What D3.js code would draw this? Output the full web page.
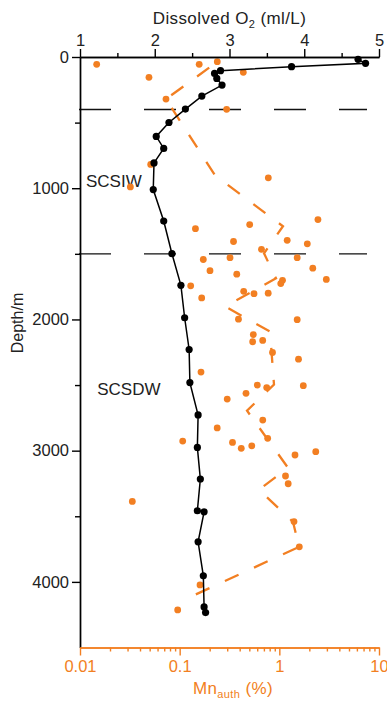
<!DOCTYPE html>
<html>
<head>
<meta charset="utf-8">
<script src="https://cdn.jsdelivr.net/npm/d3@7"></script>
<style>
  body { margin: 0; background: #fff; }
  text { font-family: "Liberation Sans", Arial, sans-serif; }
</style>
</head>
<body>
<div id="chart-area"></div>
<script>
// dissolved oxygen profile (ml/L) against depth (m)
var o2Depth = [18, 48, 74, 104, 125, 163, 214, 298, 397, 499, 605, 697, 807, 1010, 1250,
    1499, 1740, 1987, 2229, 2481, 2728, 2975, 3216, 3458, 3466, 3695, 3954, 4191, 4234];
var o2Value = [4.72, 4.82, 3.83, 2.88, 2.80, 2.83, 2.90, 2.63, 2.41, 2.19, 2.02, 2.12, 1.99, 1.98, 2.12,
    2.23, 2.35, 2.40, 2.46, 2.47, 2.58, 2.57, 2.61, 2.57, 2.66, 2.58, 2.65, 2.66, 2.68];

// authigenic Mn (%) samples
var mnDepth = [56, 56, 36, 155, 117, 321, 399, 819, 921, 990,
    1308, 1277, 1239, 1406, 1397, 1424, 1466, 1543, 1529, 1529,
    1628, 1655, 1609, 1695, 1702, 1727, 1744, 1836, 1786, 1804,
    1800, 1998, 2002, 2115, 2170, 2160, 2252, 2303, 2401, 2500,
    2519, 2505, 2607, 2563, 2767, 2827, 2927, 2937, 2982, 2963,
    2906, 3033, 3008, 3193, 3252, 3387, 3540, 3733, 4023, 4214];
var mnValue = [0.0147, 0.157, 0.2385, 0.0492, 0.435, 0.0729, 0.296, 0.0512, 0.775, 0.032,
    0.144, 0.504, 2.44, 0.347, 1.199, 1.908, 0.662, 0.1726, 0.32, 1.511,
    0.2015, 0.374, 2.166, 2.96, 1.076, 1.034, 0.129, 0.1663, 0.439, 0.557,
    0.773, 0.389, 1.511, 0.548, 0.540, 0.681, 0.854, 1.557, 0.1637, 0.601,
    0.747, 1.74, 0.300, 0.463, 0.682, 0.238, 0.1073, 0.339, 0.415, 0.529,
    0.764, 1.436, 2.32, 1.153, 1.227, 0.0335, 1.403, 1.586, 0.16, 0.0955];

// dashed Mn profile
var mnLineDepth = [36, 321, 901, 1290, 1496, 1687, 1901, 2092, 2496, 2695, 3130, 3298, 3542, 3733, 4137];
var mnLineValue = [0.2385, 0.0729, 0.226, 1.088, 0.702, 0.926, 0.285, 0.806, 0.884, 0.474, 1.221, 0.625, 1.371, 1.575, 0.1105];

// water mass boundaries
var boundaryDepth = [400, 1500];
var waterMass = ["SCSIW", "SCSDW"];
var waterMassDepth = [990, 2575];
var waterMassO2 = [1.08, 1.23];

var depthTicks = [0, 1000, 2000, 3000, 4000];
var o2Ticks = [1, 2, 3, 4, 5];
var mnTicks = [0.01, 0.1, 1, 10];

var orange = "#f27f22";

var svg = d3.select("#chart-area")
    .append("svg")
        .attr("width", 387)
        .attr("height", 703);

var x = d3.scaleLinear().domain([1, 5]).range([80, 379]);
var xMn = d3.scaleLog().domain([0.01, 10]).range([80, 379]);
var y = d3.scaleLinear().domain([0, 4500]).range([57, 647.5]);

// boundary dashed lines
svg.selectAll(".boundary")
    .data(boundaryDepth)
    .enter().append("line")
        .attr("class", "boundary")
        .attr("x1", 79)
        .attr("x2", 367)
        .attr("y1", d => y(d))
        .attr("y2", d => y(d))
        .attr("stroke", "#111")
        .attr("stroke-width", 1.3)
        .attr("stroke-dasharray", "32,33");

// water mass labels
svg.selectAll(".mass")
    .data(waterMass)
    .enter().append("text")
        .attr("class", "mass")
        .attr("x", (d, i) => x(waterMassO2[i]))
        .attr("y", (d, i) => y(waterMassDepth[i]))
        .attr("font-size", 17)
        .attr("fill", "#222")
        .text(d => d);

// Mn dashed profile
var mnLine = d3.line()
    .x(d => xMn(d[0]))
    .y(d => y(d[1]));

svg.append("path")
    .datum(mnLineValue.map((v, i) => [v, mnLineDepth[i]]))
    .attr("d", mnLine)
    .attr("fill", "none")
    .attr("stroke", orange)
    .attr("stroke-width", 2.3)
    .attr("stroke-dasharray", "15,17")
    .attr("stroke-dashoffset", -10);

svg.selectAll(".mn")
    .data(mnValue)
    .enter().append("circle")
        .attr("class", "mn")
        .attr("cx", d => xMn(d))
        .attr("cy", (d, i) => y(mnDepth[i]))
        .attr("r", 3.4)
        .attr("fill", orange);

// O2 profile
var o2Line = d3.line()
    .x(d => x(d[0]))
    .y(d => y(d[1]));

var o2Data = o2Value.map((v, i) => [v, o2Depth[i]]);

svg.append("path")
    .datum(o2Data)
    .attr("d", o2Line)
    .attr("fill", "none")
    .attr("stroke", "#000")
    .attr("stroke-width", 1.5);

svg.selectAll(".o2")
    .data(o2Data)
    .enter().append("circle")
        .attr("class", "o2")
        .attr("cx", d => x(d[0]))
        .attr("cy", d => y(d[1]))
        .attr("r", 3.6)
        .attr("fill", "#000");

// axes
function styleAxis(g, color) {
    g.selectAll("path").attr("stroke", color).attr("stroke-width", 1.4);
    g.selectAll("line").attr("stroke", color).attr("stroke-width", 1.4);
    g.selectAll("text").attr("fill", color === "#000" ? "#222" : color).attr("font-size", 16.5)
        .attr("font-family", "Liberation Sans, Arial, sans-serif");
}

// left depth axis
var yMinor = svg.append("g")
    .attr("transform", "translate(80,0)")
    .call(d3.axisLeft(y).tickValues([500, 1500, 2500, 3500]).tickSize(5).tickSizeOuter(0).tickFormat(""));
styleAxis(yMinor, "#000");
var yAxisGroup = svg.append("g")
    .attr("transform", "translate(80,0)")
    .call(d3.axisLeft(y).tickValues(depthTicks).tickSize(8).tickSizeOuter(0).tickFormat(d3.format("d")));
styleAxis(yAxisGroup, "#000");

// top O2 axis
var xMinor = svg.append("g")
    .attr("transform", "translate(0," + y(0) + ")")
    .call(d3.axisTop(x).tickValues([1.5, 2.5, 3.5, 4.5]).tickSize(4).tickSizeOuter(0).tickFormat(""));
styleAxis(xMinor, "#000");
var xAxisGroup = svg.append("g")
    .attr("transform", "translate(0," + y(0) + ")")
    .call(d3.axisTop(x).tickValues(o2Ticks).tickSize(8).tickSizeOuter(0).tickFormat(d3.format("d")));
styleAxis(xAxisGroup, "#000");

// bottom Mn axis
var mnMinorTicks = [];
[0.01, 0.1, 1].forEach(b => { for (var k = 2; k <= 9; k++) mnMinorTicks.push(b * k); });
var mnMinor = svg.append("g")
    .attr("transform", "translate(0," + y(4500) + ")")
    .call(d3.axisBottom(xMn).tickValues(mnMinorTicks).tickSize(4).tickSizeOuter(0).tickFormat(""));
styleAxis(mnMinor, orange);
var mnAxisGroup = svg.append("g")
    .attr("transform", "translate(0," + y(4500) + ")")
    .call(d3.axisBottom(xMn).tickValues(mnTicks).tickSize(8).tickSizeOuter(0).tickPadding(5)
        .tickFormat(d => String(d)));
styleAxis(mnAxisGroup, orange);

// axis titles
var topTitle = svg.append("text")
    .attr("x", 229.5)
    .attr("y", 24)
    .attr("text-anchor", "middle")
    .attr("font-size", 17)
    .attr("letter-spacing", 0.4)
    .attr("fill", "#222");
topTitle.append("tspan").text("Dissolved O");
topTitle.append("tspan").attr("font-size", 11).attr("dy", 4).text("2");
topTitle.append("tspan").attr("dy", -4).text(" (ml/L)");

var bottomTitle = svg.append("text")
    .attr("x", 233)
    .attr("y", 694)
    .attr("text-anchor", "middle")
    .attr("font-size", 17)
    .attr("letter-spacing", 0.4)
    .attr("fill", orange);
bottomTitle.append("tspan").text("Mn");
bottomTitle.append("tspan").attr("font-size", 11).attr("dy", 4).text("auth");
bottomTitle.append("tspan").attr("dy", -4).text(" (%)");

svg.append("text")
    .attr("transform", "translate(23,323) rotate(-90)")
    .attr("text-anchor", "middle")
    .attr("font-size", 16)
    .attr("fill", "#222")
    .text("Depth/m");
</script>
</body>
</html>
